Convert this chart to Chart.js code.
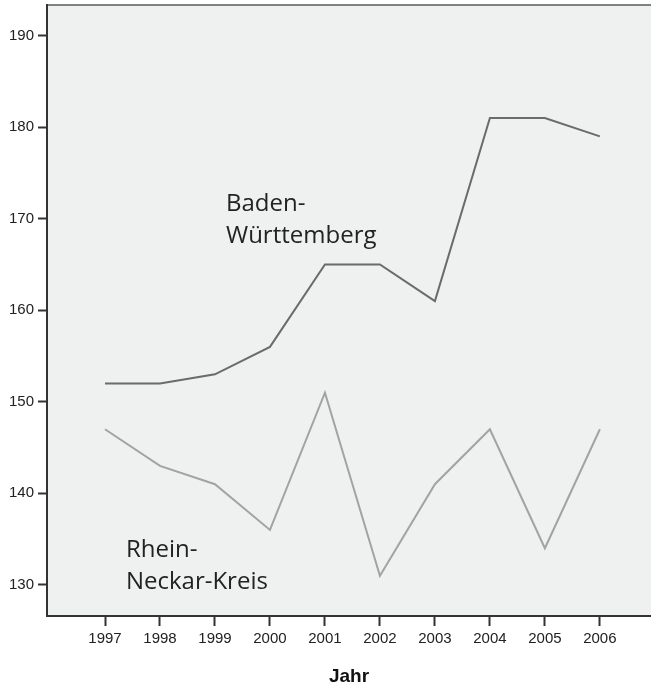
<!DOCTYPE html>
<html>
<head>
<meta charset="utf-8">
<script src="https://cdn.jsdelivr.net/npm/chart.js@4.4.1/dist/chart.umd.min.js"></script>
<style>
  html, body { margin: 0; padding: 0; background: #fff; }
  #wrap { width: 651px; height: 685px; }
</style>
</head>
<body>
<div id="wrap"><canvas id="chart" width="651" height="685"></canvas></div>
<script>
// Data
const years = [1997, 1998, 1999, 2000, 2001, 2002, 2003, 2004, 2005, 2006];
const badenWuerttemberg = [152, 152, 153, 156, 165, 165, 161, 181, 181, 179];
const rheinNeckarKreis = [147, 143, 141, 136, 151, 131, 141, 147, 134, 147];
const yTicks = [130, 140, 150, 160, 170, 180, 190];

// Labels placed inside the plot (data coordinates, one entry per line)
const lineLabels = [
    { lines: ["Baden-", "Württemberg"], x: 1999.2, y: 171.55 },
    { lines: ["Rhein-", "Neckar-Kreis"], x: 1997.38, y: 133.8 }
];

const toPoints = (vals) => years.map((yr, i) => ({ x: yr, y: vals[i] }));

// background of plot area + top frame line
const plotBackground = {
    id: "plotBackground",
    beforeDraw(chart) {
        const { ctx, chartArea: a } = chart;
        ctx.save();
        ctx.fillStyle = "#eff0f0";
        ctx.fillRect(a.left, a.top, a.right - a.left, a.bottom - a.top);
        ctx.strokeStyle = "#808080";
        ctx.lineWidth = 2;
        ctx.beginPath();
        ctx.moveTo(a.left, a.top);
        ctx.lineTo(a.right, a.top);
        ctx.stroke();
        ctx.restore();
    }
};

// text labels for the two lines
const seriesLabels = {
    id: "seriesLabels",
    afterDatasetsDraw(chart) {
        const { ctx, scales } = chart;
        ctx.save();
        ctx.fillStyle = "#222";
        ctx.font = "24px 'Open Sans'";
        ctx.textAlign = "left";
        ctx.textBaseline = "middle";
        lineLabels.forEach(lbl => {
            const px = scales.x.getPixelForValue(lbl.x);
            const py = scales.y.getPixelForValue(lbl.y);
            lbl.lines.forEach((t, i) => ctx.fillText(t, px, py + i * 32));
        });
        ctx.restore();
    }
};

new Chart(document.getElementById("chart"), {
    type: "line",
    data: {
        datasets: [
            {
                label: "Baden-Württemberg",
                data: toPoints(badenWuerttemberg),
                borderColor: "#6b6b6b",
                borderWidth: 2,
                pointRadius: 0,
                tension: 0
            },
            {
                label: "Rhein-Neckar-Kreis",
                data: toPoints(rheinNeckarKreis),
                borderColor: "#a3a3a3",
                borderWidth: 2,
                pointRadius: 0,
                tension: 0
            }
        ]
    },
    options: {
        responsive: false,
        animation: false,
        layout: { padding: { top: 5, left: 0, right: 0, bottom: 0 } },
        plugins: {
            legend: { display: false },
            tooltip: { enabled: false }
        },
        scales: {
            x: {
                type: "linear",
                min: 1995.945,
                max: 2006.93,
                afterBuildTicks: (axis) => { axis.ticks = years.map(v => ({ value: v })); },
                afterFit: (axis) => { axis.height = 69; },
                grid: { drawOnChartArea: false, tickLength: 10, tickColor: "#333", tickWidth: 2 },
                border: { color: "#333", width: 2 },
                ticks: {
                    color: "#222",
                    font: { family: "Liberation Sans", size: 15 },
                    padding: 4,
                    maxRotation: 0,
                    callback: (v) => String(v)
                },
                title: {
                    display: true,
                    text: "Jahr",
                    color: "#111",
                    font: { family: "Liberation Sans", size: 19, weight: "bold" },
                    padding: { top: 8, bottom: -3 }
                }
            },
            y: {
                min: 126.6,
                max: 193.35,
                afterBuildTicks: (axis) => { axis.ticks = yTicks.map(v => ({ value: v })); },
                afterFit: (axis) => { axis.width = 47; axis.paddingTop = 0; },
                grid: { drawOnChartArea: false, tickLength: 9, tickColor: "#333", tickWidth: 2 },
                border: { color: "#333", width: 2 },
                ticks: {
                    color: "#222",
                    font: { family: "Liberation Sans", size: 15 },
                    padding: 4
                }
            }
        }
    },
    plugins: [plotBackground, seriesLabels]
});
</script>
</body>
</html>
